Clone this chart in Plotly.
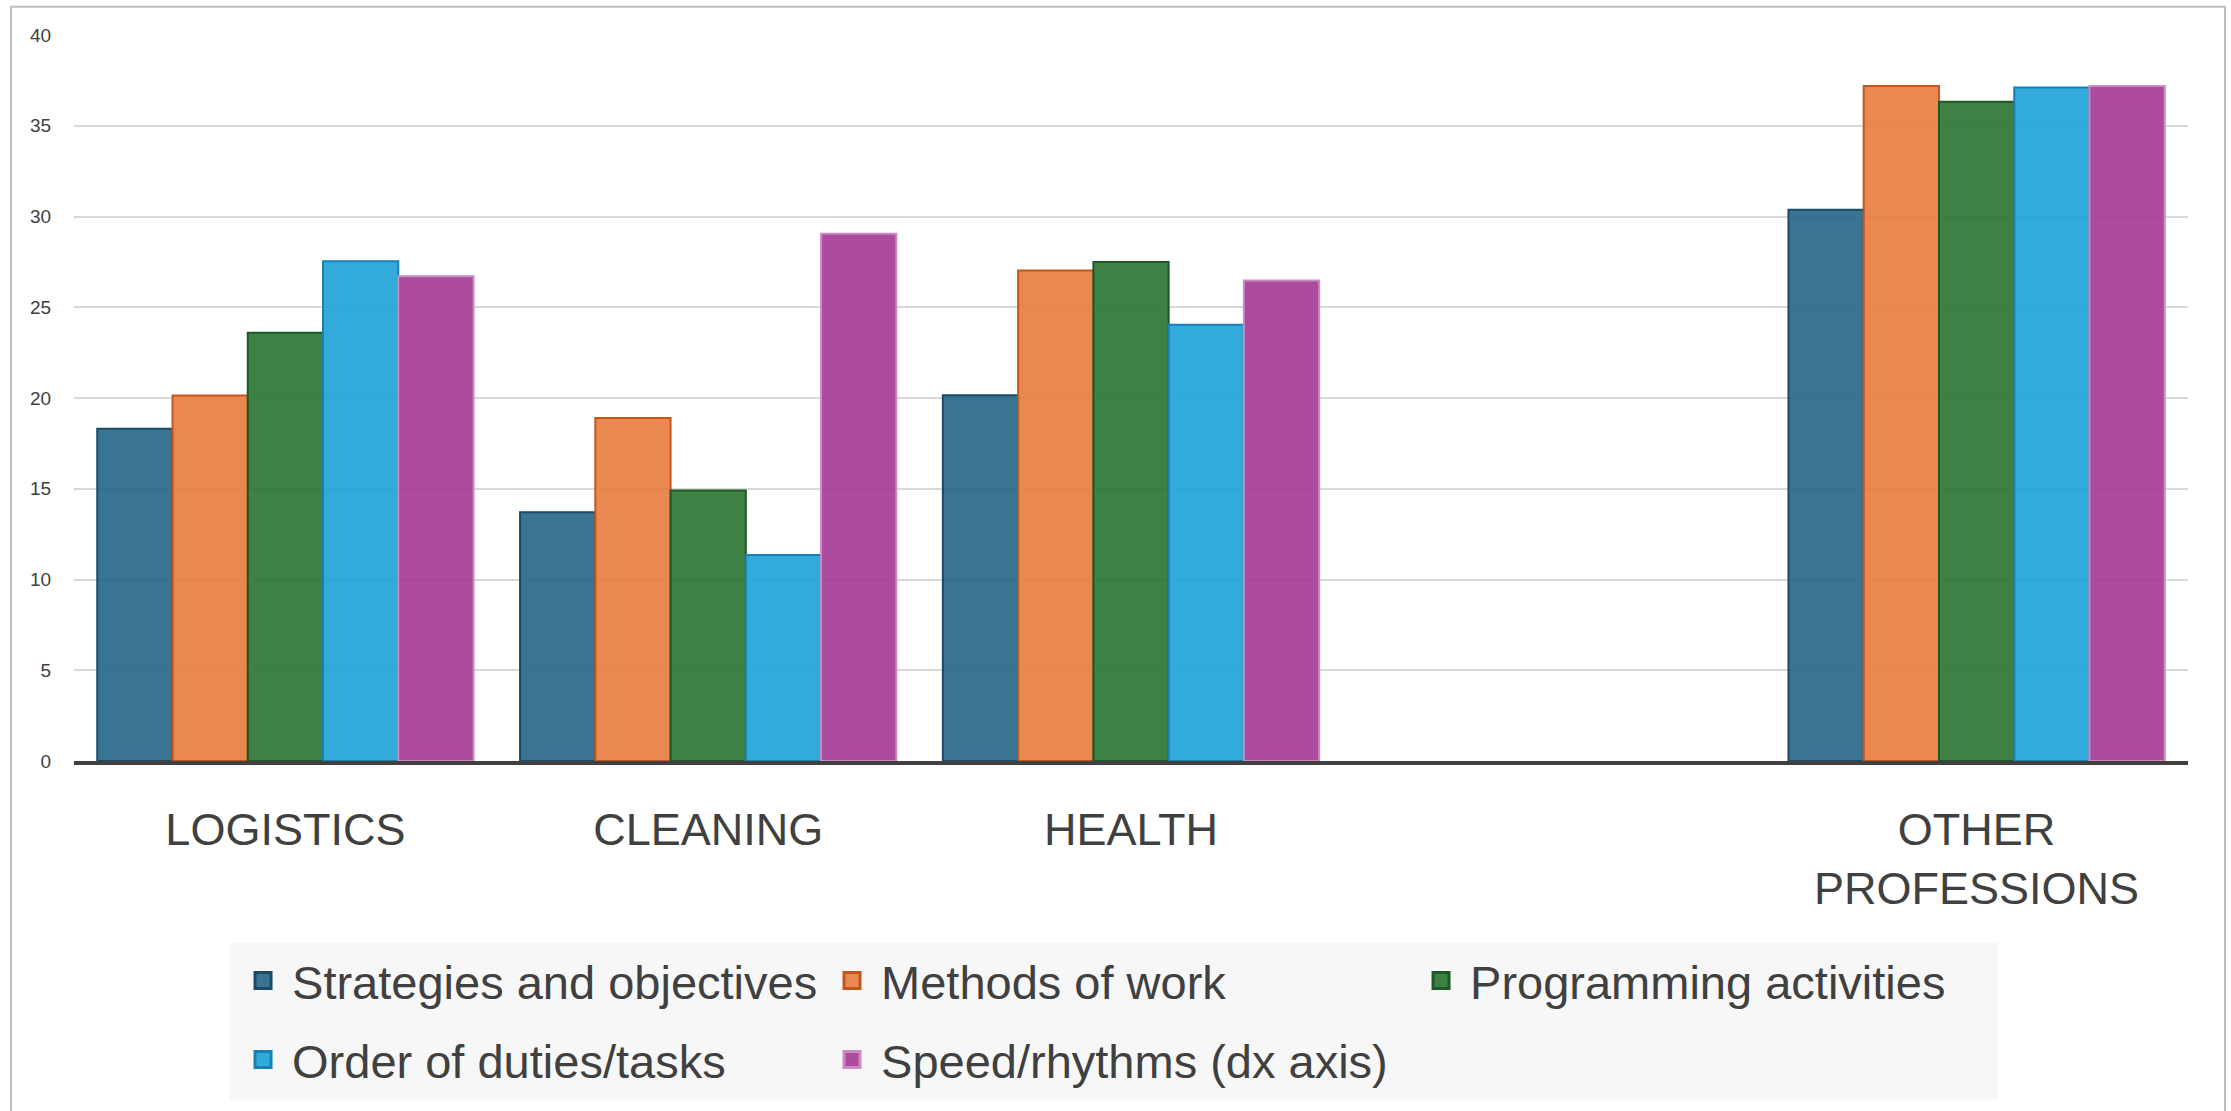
import plotly.graph_objects as go

categories = ["LOGISTICS", "CLEANING", "HEALTH", " ", "OTHER<br>PROFESSIONS"]
series_names = [
    "Strategies and objectives",
    "Methods of work",
    "Programming activities",
    "Order of duties/tasks",
    "Speed/rhythms (dx axis)",
]
strategies = [18.3, 13.7, 20.15, None, 30.37]
methods = [20.14, 18.9, 27.02, None, 37.19]
programming = [23.6, 14.9, 27.5, None, 36.32]
order_tasks = [27.53, 11.35, 24.04, None, 37.11]
speed = [26.71, 29.05, 26.47, None, 37.19]
y_ticks = [0, 5, 10, 15, 20, 25, 30, 35, 40]

fills = [
    "rgba(36,102,134,0.9)",
    "rgba(232,123,63,0.9)",
    "rgba(40,115,48,0.9)",
    "rgba(29,162,214,0.9)",
    "rgba(164,56,149,0.9)",
]
outlines = ["#1B4B66", "#C5561B", "#1E5A26", "#1A7FB5", "#C98BC2"]
legend_rows = ["legend", "legend", "legend", "legend2", "legend2"]

fig = go.Figure()
for name, vals, fc, lc in zip(series_names,
                              [strategies, methods, programming, order_tasks, speed],
                              fills, outlines):
    fig.add_trace(go.Bar(
        x=categories, y=vals, name=name, showlegend=False,
        marker=dict(color=fc, line=dict(color=lc, width=2)),
    ))

# legend-only entries (larger square swatches)
for name, fc, lc, lg in zip(series_names, fills, outlines, legend_rows):
    fig.add_trace(go.Scatter(
        x=[None], y=[None], name=name, mode="markers", legend=lg,
        marker=dict(symbol="square", size=22, color=fc, line=dict(color=lc, width=3)),
    ))

FONT = "Liberation Sans, Arial, sans-serif"
leg_common = dict(
    orientation="h", xanchor="left", yanchor="top", x=0.0757,
    bgcolor="rgba(0,0,0,0)", font=dict(size=47, color="#404040"),
    entrywidth=526, entrywidthmode="pixels", itemwidth=48,
    traceorder="normal",
)
fig.update_layout(
    width=2231, height=1111,
    margin=dict(l=74, r=43, t=35, b=350),
    paper_bgcolor="white", plot_bgcolor="white",
    barmode="group", bargap=0.11, bargroupgap=0,
    font=dict(family=FONT, color="#404040"),
    showlegend=True,
    legend=dict(leg_common, y=-0.2514),
    legend2=dict(leg_common, y=-0.3602),
    xaxis=dict(
        type="category", categoryorder="array", categoryarray=categories,
        showline=True, linecolor="#404040", linewidth=4,
        ticks="outside", ticklen=26, tickcolor="rgba(0,0,0,0)",
        tickfont=dict(size=45, color="#404040"),
        showgrid=False, zeroline=False,
    ),
    yaxis=dict(
        range=[0, 40], tickvals=y_ticks,
        showgrid=True, gridcolor="#D9D9D9", gridwidth=2,
        zeroline=False, showline=False,
        ticks="outside", ticklen=18, tickcolor="rgba(0,0,0,0)",
        tickfont=dict(size=19, color="#404040"),
    ),
    shapes=[
        dict(type="rect", xref="paper", yref="paper",
             x0=-0.0298, x1=1.0175, y0=-0.49, y1=1.039,
             line=dict(color="#BFBFBF", width=2), layer="below"),
        dict(type="rect", xref="paper", yref="paper",
             x0=0.0738, x1=0.9101, y0=-0.4663, y1=-0.25,
             fillcolor="#F7F7F7", line=dict(width=0), layer="below"),
    ],
)

fig.write_html("out.html")
